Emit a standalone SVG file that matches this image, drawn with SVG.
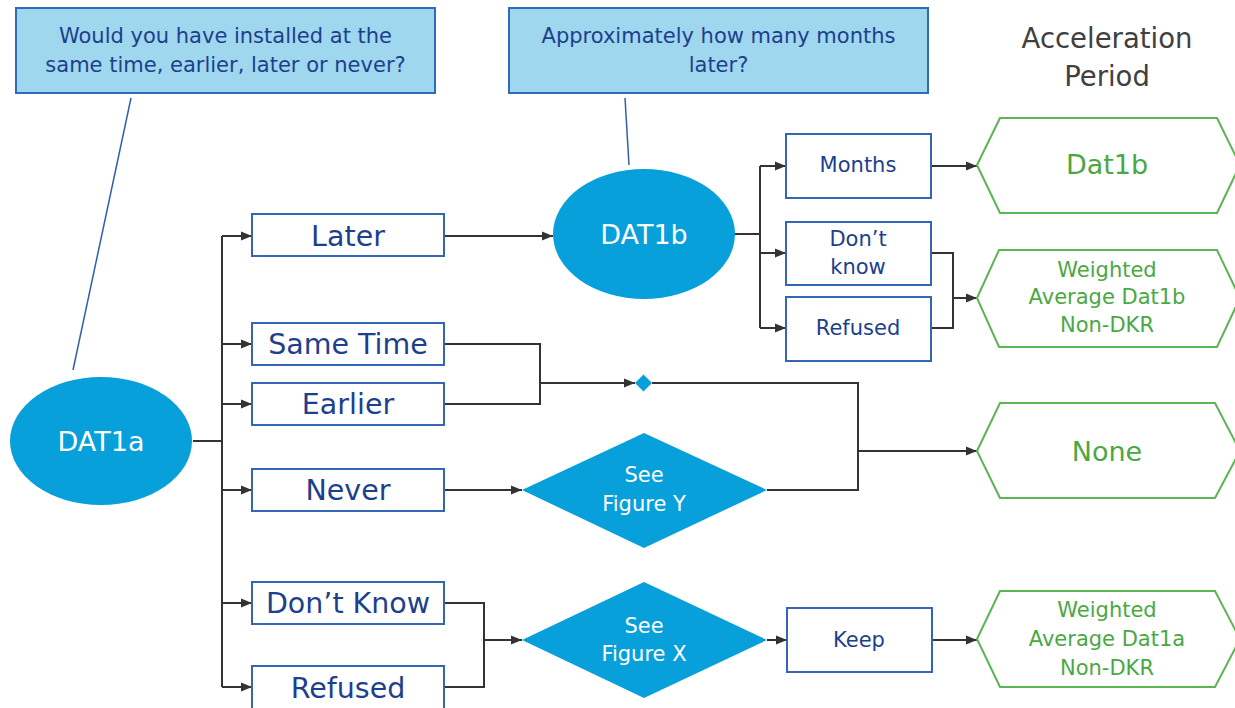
<svg xmlns="http://www.w3.org/2000/svg" width="1235" height="708" viewBox="0 0 1235 708">
<style>
text{font-family:"DejaVu Sans","Verdana",sans-serif;text-anchor:middle}
.callout{fill:#9fd7ef;stroke:#2f6bb8;stroke-width:2}
.ctext{fill:#1d3f8c;font-size:21px}
.box{fill:#fff;stroke:#3565b5;stroke-width:2}
.btext{fill:#1d3f8c;font-size:28.5px}
.stext{fill:#1d3f8c;font-size:21px}
.oval{fill:#07a0da}
.wtext{fill:#fff;font-size:27px}
.dtext{fill:#fff;font-size:21px}
.hex{fill:#fff;stroke:#5ab552;stroke-width:2}
.gtext{fill:#4aa843;font-size:21px}
.gbig{fill:#4aa843;font-size:27px}
.conn{fill:none;stroke:#333;stroke-width:2}
.arr{fill:none;stroke:#333;stroke-width:2;marker-end:url(#ah)}
.ptr{fill:none;stroke:#2f5fb0;stroke-width:1.5}
</style>
<defs>
<marker id="ah" markerWidth="11" markerHeight="10" refX="11" refY="5" orient="auto" markerUnits="userSpaceOnUse">
<path d="M0,0.5 L11,5 L0,9.5 Z" fill="#333"/>
</marker>
</defs>

<g id="title">
<text x="1107" y="48" style="fill:#404040;font-size:27.5px">Acceleration</text>
<text x="1107" y="86" style="fill:#404040;font-size:27.5px">Period</text>
</g>

<g id="callout1">
<rect class="callout" x="16" y="8" width="419" height="85"/>
<text class="ctext" x="225.5" y="43">Would you have installed at the</text>
<text class="ctext" x="225.5" y="72">same time, earlier, later or never?</text>
<line class="ptr" x1="131" y1="98" x2="73" y2="370"/>
</g>

<g id="callout2">
<rect class="callout" x="509" y="8" width="419" height="85"/>
<text class="ctext" x="718.5" y="43">Approximately how many months</text>
<text class="ctext" x="718.5" y="72">later?</text>
<line class="ptr" x1="625" y1="98" x2="629" y2="165"/>
</g>

<g id="connectors">
<path class="conn" d="M193,441 H222 M222,236 V687"/>
<path class="arr" d="M222,236 H252"/>
<path class="arr" d="M222,344 H252"/>
<path class="arr" d="M222,404 H252"/>
<path class="arr" d="M222,490 H252"/>
<path class="arr" d="M222,603 H252"/>
<path class="arr" d="M222,687 H252"/>
<path class="arr" d="M444,236 H553"/>
<path class="conn" d="M734,234 H760 M760,166 V328"/>
<path class="arr" d="M760,166 H786"/>
<path class="arr" d="M760,253 H786"/>
<path class="arr" d="M760,328 H786"/>
<path class="arr" d="M931,166 H977"/>
<path class="conn" d="M931,253 H953 V328 H931"/>
<path class="arr" d="M953,298 H977"/>
<path class="conn" d="M444,344 H540 V404 H444"/>
<path class="arr" d="M540,383 H635"/>
<path class="conn" d="M652,383 H858 V490 H767"/>
<path class="arr" d="M858,451 H977"/>
<path class="arr" d="M444,490 H522"/>
<path class="conn" d="M444,603 H484 V687 H444"/>
<path class="arr" d="M484,640 H522"/>
<path class="arr" d="M767,640 H787"/>
<path class="arr" d="M932,640 H977"/>
</g>

<g id="dat1a">
<ellipse class="oval" cx="101" cy="441" rx="91" ry="64"/>
<text class="wtext" x="101" y="451">DAT1a</text>
</g>

<g id="later"><rect class="box" x="252" y="214" width="192" height="42"/><text class="btext" x="348" y="246">Later</text></g>
<g id="sametime"><rect class="box" x="252" y="323" width="192" height="42"/><text class="btext" x="348" y="354">Same Time</text></g>
<g id="earlier"><rect class="box" x="252" y="383" width="192" height="42"/><text class="btext" x="348" y="414">Earlier</text></g>
<g id="never"><rect class="box" x="252" y="469" width="192" height="42"/><text class="btext" x="348" y="500">Never</text></g>
<g id="dontknow"><rect class="box" x="252" y="582" width="192" height="42"/><text class="btext" x="348" y="613">Don’t Know</text></g>
<g id="refused"><rect class="box" x="252" y="666" width="192" height="44"/><text class="btext" x="348" y="698">Refused</text></g>

<g id="dat1b">
<ellipse class="oval" cx="644" cy="234" rx="91" ry="65"/>
<text class="wtext" x="644" y="244">DAT1b</text>
</g>

<g id="months"><rect class="box" x="786" y="134" width="145" height="64"/><text class="stext" x="858" y="172">Months</text></g>
<g id="dontknow2"><rect class="box" x="786" y="222" width="145" height="63"/><text class="stext" x="858" y="246">Don’t</text><text class="stext" x="858" y="274">know</text></g>
<g id="refused2"><rect class="box" x="786" y="297" width="145" height="64"/><text class="stext" x="858" y="335">Refused</text></g>

<g id="merge"><path d="M643.5,374.5 L652,383 L643.5,391.5 L635,383 Z" fill="#07a0da"/></g>

<g id="figy">
<path class="oval" d="M522,490 L644,433 L767,490 L644,548 Z"/>
<text class="dtext" x="644" y="482">See</text>
<text class="dtext" x="644" y="511">Figure Y</text>
</g>

<g id="figx">
<path class="oval" d="M522,640 L644,582 L767,640 L644,698 Z"/>
<text class="dtext" x="644" y="633">See</text>
<text class="dtext" x="644" y="661">Figure X</text>
</g>

<g id="keep"><rect class="box" x="787" y="608" width="145" height="64"/><text class="stext" x="859" y="647">Keep</text></g>

<g id="hexdat1b">
<path class="hex" d="M977,165 L1000,118 H1217 L1240,165 L1217,213 H1000 Z"/>
<text class="gbig" x="1107" y="174">Dat1b</text>
</g>
<g id="hexwa1b">
<path class="hex" d="M977,298 L999,250 H1217 L1240,298 L1217,347 H999 Z"/>
<text class="gtext" x="1107" y="277">Weighted</text>
<text class="gtext" x="1107" y="304">Average Dat1b</text>
<text class="gtext" x="1107" y="332">Non-DKR</text>
</g>
<g id="hexnone">
<path class="hex" d="M977,451 L1000,403 H1215 L1240,451 L1215,498 H1000 Z"/>
<text class="gbig" x="1107" y="461">None</text>
</g>
<g id="hexwa1a">
<path class="hex" d="M977,639 L1000,591 H1215 L1240,639 L1215,687 H1000 Z"/>
<text class="gtext" x="1107" y="617">Weighted</text>
<text class="gtext" x="1107" y="646">Average Dat1a</text>
<text class="gtext" x="1107" y="675">Non-DKR</text>
</g>
</svg>
